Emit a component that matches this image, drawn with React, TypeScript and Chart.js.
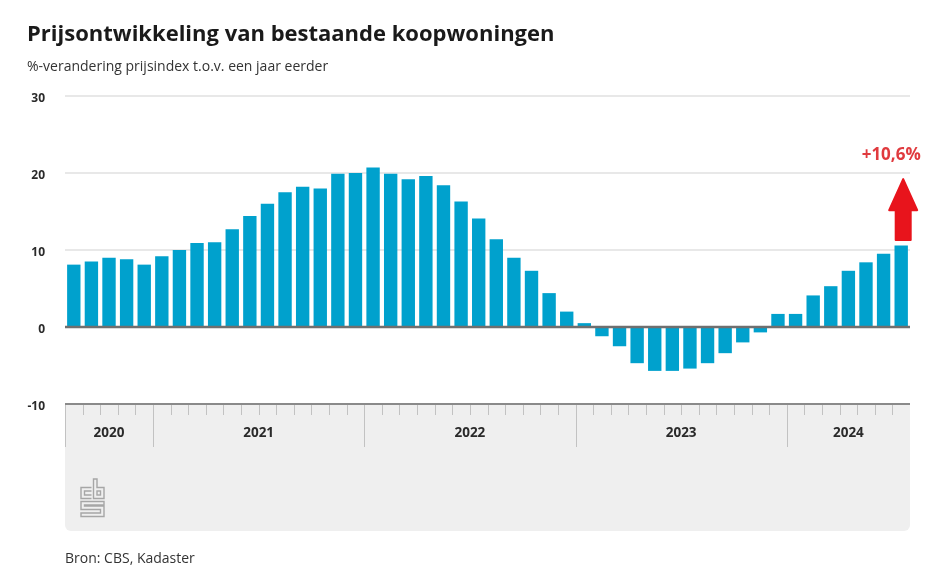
import React, { useEffect, useRef } from "react";
import { Chart, registerables } from "chart.js";

Chart.register(...registerables);

const FONT = "'Open Sans', 'Noto Sans', sans-serif";

const categories = [
  "2020-08", "2020-09", "2020-10", "2020-11", "2020-12",
  "2021-01", "2021-02", "2021-03", "2021-04", "2021-05", "2021-06",
  "2021-07", "2021-08", "2021-09", "2021-10", "2021-11", "2021-12",
  "2022-01", "2022-02", "2022-03", "2022-04", "2022-05", "2022-06",
  "2022-07", "2022-08", "2022-09", "2022-10", "2022-11", "2022-12",
  "2023-01", "2023-02", "2023-03", "2023-04", "2023-05", "2023-06",
  "2023-07", "2023-08", "2023-09", "2023-10", "2023-11", "2023-12",
  "2024-01", "2024-02", "2024-03", "2024-04", "2024-05", "2024-06",
  "2024-07",
];

const values = [
  8.1, 8.5, 9.0, 8.8, 8.1,
  9.2, 10.0, 10.9, 11.0, 12.7, 14.4, 16.0, 17.5, 18.2, 18.0, 19.9, 20.0,
  20.7, 19.9, 19.2, 19.6, 18.4, 16.3, 14.1, 11.4, 9.0, 7.3, 4.4, 2.0,
  0.5, -1.2, -2.5, -4.7, -5.7, -5.7, -5.4, -4.7, -3.4, -2.0, -0.7, 1.7,
  1.7, 4.1, 5.3, 7.3, 8.4, 9.5, 10.6,
];

const yMin = -10;
const yMax = 30;
const yStep = 10;

const titleText = "Prijsontwikkeling van bestaande koopwoningen";
const subtitleText = "%-verandering prijsindex t.o.v. een jaar eerder";
const sourceText = "Bron: CBS, Kadaster";
const highlightText = "+10,6%";
const arrowBaseValue = 11.3;
const arrowTipValue = 19.2;
const highlightLabelValue = 22.3;

const BAR_COLOR = "#00a1cd";

function drawLogo(ctx: CanvasRenderingContext2D, x: number, y: number) {
  ctx.save();
  ctx.translate(x, y);
  ctx.strokeStyle = "#a6a6a6";
  ctx.lineWidth = 1.4;
  ctx.lineJoin = "miter";
  const poly = (pts: number[][], close: boolean) => {
    ctx.beginPath();
    ctx.moveTo(pts[0][0], pts[0][1]);
    for (let i = 1; i < pts.length; i++) ctx.lineTo(pts[i][0], pts[i][1]);
    if (close) ctx.closePath();
    ctx.stroke();
  };
  // c
  poly([[11, 9], [0.5, 9], [0.5, 20], [11, 20]], false);
  poly([[11, 12.5], [4, 12.5], [4, 16.5], [11, 16.5]], false);
  // b
  poly([[13, 0.5], [13, 20], [23.5, 20], [23.5, 9], [16.5, 9], [16.5, 0.5]], true);
  ctx.strokeRect(16.5, 12.5, 3.5, 4);
  // S
  poly([
    [23.5, 23], [0.5, 23], [0.5, 31], [20, 31], [20, 34.5], [0.5, 34.5],
    [0.5, 38], [23.5, 38], [23.5, 27.5], [4, 27.5], [4, 26.5], [23.5, 26.5],
  ], true);
  ctx.restore();
}

const decorPlugin = {
  id: "decor",
  beforeDraw(chart: any) {
    const { ctx, chartArea: a } = chart;
    ctx.save();
    ctx.fillStyle = "#efefef";
    ctx.beginPath();
    (ctx as any).roundRect(a.left, a.bottom, a.right - a.left, 127, [0, 0, 6, 6]);
    ctx.fill();
    ctx.restore();
  },
  afterDatasetsDraw(chart: any) {
    const { ctx, chartArea: a } = chart;
    const y0 = chart.scales.y.getPixelForValue(0);
    ctx.save();
    ctx.strokeStyle = "#6f6f6f";
    ctx.lineWidth = 2.5;
    ctx.beginPath();
    ctx.moveTo(a.left, y0);
    ctx.lineTo(a.right, y0);
    ctx.stroke();
    ctx.restore();
  },
  afterDraw(chart: any) {
    const { ctx, chartArea: a } = chart;
    const xs = chart.scales.x;
    const ys = chart.scales.y;
    const n = categories.length;
    ctx.save();
    const boundary = (i: number) => {
      if (i <= 0) return a.left;
      if (i >= n) return a.right;
      return (xs.getPixelForValue(i - 1) + xs.getPixelForValue(i)) / 2;
    };
    ctx.strokeStyle = "#c2c2c2";
    ctx.lineWidth = 1;
    for (let i = 0; i < n; i++) {
      const yearStart = i === 0 || categories[i].slice(0, 4) !== categories[i - 1].slice(0, 4);
      const bx = Math.round(boundary(i)) + 0.5;
      ctx.beginPath();
      ctx.moveTo(bx, a.bottom);
      ctx.lineTo(bx, a.bottom + (yearStart ? 43 : 11));
      ctx.stroke();
    }
    ctx.strokeStyle = "#8a8a8a";
    ctx.lineWidth = 2;
    ctx.beginPath();
    ctx.moveTo(a.left, a.bottom);
    ctx.lineTo(a.right, a.bottom);
    ctx.stroke();
    ctx.fillStyle = "#2a2a2a";
    ctx.font = `bold 13.5px ${FONT}`;
    ctx.textAlign = "center";
    ctx.textBaseline = "middle";
    let start = 0;
    for (let i = 1; i <= n; i++) {
      if (i === n || categories[i].slice(0, 4) !== categories[i - 1].slice(0, 4)) {
        const cx = (boundary(start) + boundary(i)) / 2;
        ctx.fillText(categories[start].slice(0, 4), cx, a.bottom + 29);
        start = i;
      }
    }
    drawLogo(ctx, a.left + 15.5, a.bottom + 74.5);

    const last = n - 1;
    const cx = xs.getPixelForValue(last) + 2;
    const yBase = ys.getPixelForValue(arrowBaseValue);
    const yTip = ys.getPixelForValue(arrowTipValue);
    const headH = 31;
    const headW = 28;
    const shaftW = 15;
    ctx.fillStyle = "#e8141c";
    ctx.strokeStyle = "#e8141c";
    ctx.lineWidth = 2;
    ctx.lineJoin = "round";
    ctx.beginPath();
    ctx.moveTo(cx - shaftW / 2, yBase);
    ctx.lineTo(cx - shaftW / 2, yTip + headH);
    ctx.lineTo(cx - headW / 2, yTip + headH);
    ctx.lineTo(cx, yTip);
    ctx.lineTo(cx + headW / 2, yTip + headH);
    ctx.lineTo(cx + shaftW / 2, yTip + headH);
    ctx.lineTo(cx + shaftW / 2, yBase);
    ctx.closePath();
    ctx.fill();
    ctx.stroke();
    ctx.fillStyle = "#e03a3e";
    ctx.font = `bold 17px ${FONT}`;
    ctx.textAlign = "center";
    ctx.textBaseline = "middle";
    ctx.fillText(highlightText, cx - 12, ys.getPixelForValue(highlightLabelValue));
    ctx.restore();
  },
};

export default function App() {
  const canvasRef = useRef<HTMLCanvasElement | null>(null);

  useEffect(() => {
    const canvas = canvasRef.current;
    if (!canvas) return;
    const chart = new Chart(canvas, {
      type: "bar",
      data: {
        labels: categories,
        datasets: [
          {
            data: values,
            backgroundColor: BAR_COLOR,
            borderWidth: 0,
            barPercentage: 0.76,
            categoryPercentage: 1,
          },
        ],
      },
      options: {
        responsive: false,
        animation: false,
        devicePixelRatio: 1,
        layout: { padding: { top: 96, right: 33, bottom: 171, left: 0 } },
        plugins: {
          legend: { display: false },
          tooltip: { enabled: false },
          title: { display: false },
        },
        scales: {
          x: { type: "category", display: false },
          y: {
            min: yMin,
            max: yMax,
            afterFit: (s: any) => {
              s.width = 65;
            },
            ticks: {
              stepSize: yStep,
              padding: 20,
              labelOffset: 3,
              color: "#2a2a2a",
              font: { family: FONT, size: 12, weight: "bold" },
            },
            grid: {
              drawTicks: false,
              color: (c: any) =>
                c.tick && (c.tick.value === 0 || c.tick.value === yMin)
                  ? "rgba(0,0,0,0)"
                  : "#e8e8e8",
              lineWidth: 2,
            },
            border: { display: false },
          },
        },
      },
      plugins: [decorPlugin],
    });
    return () => chart.destroy();
  }, []);

  return (
    <div
      style={{
        position: "absolute",
        left: 0,
        top: 0,
        width: 943,
        height: 575,
        background: "#ffffff",
        fontFamily: FONT,
        overflow: "hidden",
      }}
    >
      <canvas
        ref={canvasRef}
        width={943}
        height={575}
        style={{ position: "absolute", left: 0, top: 0, width: 943, height: 575 }}
      />
      <div
        style={{
          position: "absolute",
          left: 27,
          top: 20.5,
          fontSize: 22,
          lineHeight: "22px",
          fontWeight: 700,
          color: "#1a1a1a",
          whiteSpace: "nowrap",
        }}
      >
        {titleText}
      </div>
      <div
        style={{
          position: "absolute",
          left: 27,
          top: 58.5,
          fontSize: 14,
          lineHeight: "14px",
          color: "#333333",
          whiteSpace: "nowrap",
        }}
      >
        {subtitleText}
      </div>
      <div
        style={{
          position: "absolute",
          left: 65,
          top: 550.5,
          fontSize: 14,
          lineHeight: "14px",
          color: "#333333",
          whiteSpace: "nowrap",
        }}
      >
        {sourceText}
      </div>
    </div>
  );
}
